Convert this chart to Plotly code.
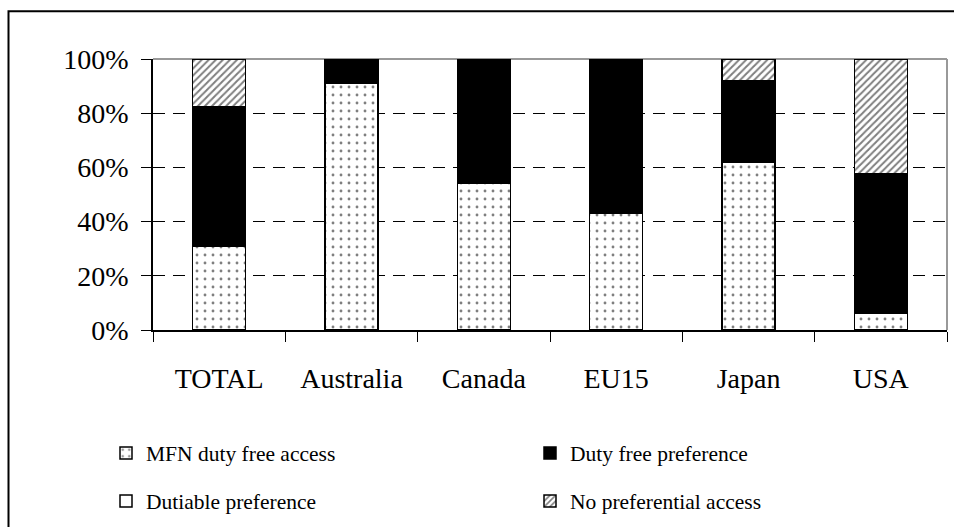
import plotly.graph_objects as go

categories = ["TOTAL", "Australia", "Canada", "EU15", "Japan", "USA"]
mfn_duty_free = [31, 91, 54, 43, 62, 6]
duty_free_pref = [51.5, 9, 46, 57, 30, 51.5]
dutiable_pref = [0, 0, 0, 0, 0, 0]
no_pref = [17.5, 0, 0, 0, 8, 42.5]
y_ticks = [0, 20, 40, 60, 80, 100]
y_tick_labels = ["0%", "20%", "40%", "60%", "80%", "100%"]

FONT = "Liberation Serif, Times New Roman, Times, serif"
W, H = 954, 527
L, R, T, B = 153, 7, 59, 196
pw, ph = W - L - R, H - T - B

def px_x(p):
    return (p - L) / pw

def px_y(p):
    return (H - B - p) / ph

line = dict(color="black", width=1.5)
fig = go.Figure()
fig.add_trace(go.Bar(
    x=categories, y=mfn_duty_free, name="MFN duty free access", legend="legend",
    marker=dict(color="white", line=line,
                pattern=dict(shape=".", fgcolor="black", bgcolor="white", size=8, solidity=0.1)),
))
fig.add_trace(go.Bar(
    x=categories, y=duty_free_pref, name="Duty free preference", legend="legend",
    marker=dict(color="black", line=line),
))
fig.add_trace(go.Bar(
    x=categories, y=dutiable_pref, name="Dutiable preference", legend="legend2",
    marker=dict(color="white", line=line),
))
fig.add_trace(go.Bar(
    x=categories, y=no_pref, name="No preferential access", legend="legend2",
    marker=dict(color="white", line=line,
                pattern=dict(shape="/", fgcolor="black", bgcolor="white", size=5, solidity=0.4)),
))

legend_common = dict(
    orientation="h", xanchor="left", yanchor="middle",
    x=px_x(106), entrywidth=379, entrywidthmode="pixels",
    font=dict(family=FONT, size=21.5, color="black"),
    bgcolor="rgba(0,0,0,0)", borderwidth=0, traceorder="normal",
)

fig.update_layout(
    width=W, height=H,
    margin=dict(l=L, r=R, t=T, b=B, pad=0),
    barmode="stack", bargap=0.6,
    paper_bgcolor="white", plot_bgcolor="white",
    font=dict(family=FONT, color="black"),
    legend=dict(legend_common, y=px_y(453)),
    legend2=dict(legend_common, y=px_y(501)),
    xaxis=dict(
        type="category", tickson="boundaries", ticks="outside", ticklen=10,
        tickcolor="black", tickwidth=1, showgrid=False, showline=True,
        linecolor="black", linewidth=1.5, ticklabelstandoff=23,
        tickfont=dict(family=FONT, size=28, color="black"),
    ),
    yaxis=dict(
        range=[0, 100], tickvals=y_ticks, ticktext=y_tick_labels, ticks="outside",
        ticklen=10, tickcolor="black", showline=True, linecolor="black",
        linewidth=1.5, showgrid=True, gridcolor="black", gridwidth=1,
        griddash="12px,8px", zeroline=False, ticklabelstandoff=7,
        tickfont=dict(family=FONT, size=28, color="black"),
    ),
    shapes=[
        dict(type="line", xref="paper", yref="paper", x0=0, x1=1, y0=1, y1=1,
             line=dict(color="#999999", width=2), layer="between"),
        dict(type="line", xref="paper", yref="paper", x0=1, x1=1, y0=0, y1=1,
             line=dict(color="#999999", width=2), layer="between"),
        dict(type="rect", xref="paper", yref="paper",
             x0=px_x(8.5), x1=px_x(1000), y0=px_y(600), y1=px_y(11),
             line=dict(color="black", width=2), layer="below"),
    ],
)

fig.write_html("out.html", config={"displayModeBar": False},
               post_script="document.body.style.margin='0';document.body.style.padding='0';")
